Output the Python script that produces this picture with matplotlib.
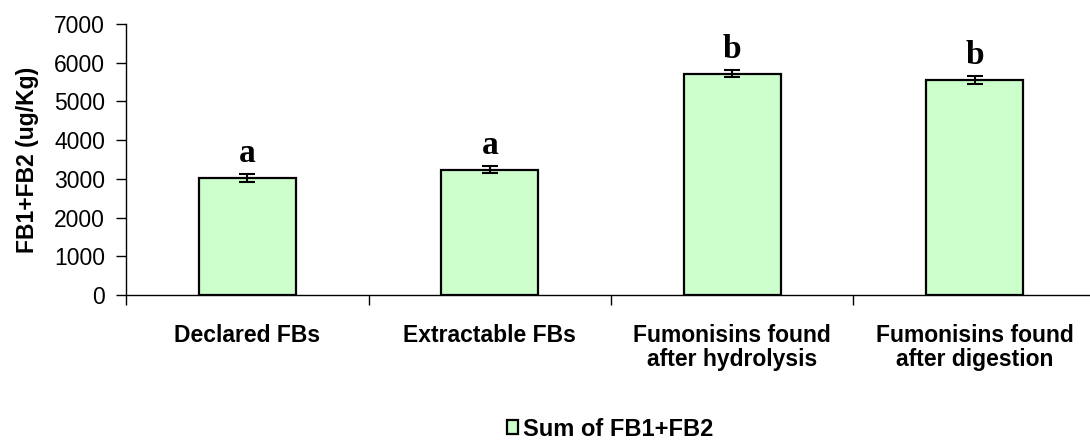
import matplotlib.pyplot as plt

# mean FB1+FB2 per sample group, with standard errors and significance letters
groups = ['Declared FBs', 'Extractable FBs',
          'Fumonisins found\nafter hydrolysis', 'Fumonisins found\nafter digestion']
fb_sum = [3030, 3240, 5720, 5550]
fb_err = [100, 100, 100, 100]
letters = ['a', 'a', 'b', 'b']

plt.rcParams['font.family'] = 'Liberation Sans'

fig = plt.figure(figsize=(10.9, 4.41), dpi=100)
ax = fig.add_axes([0.1156, 0.3311, 0.8899, 0.6145])

x = range(len(groups))
ax.bar(x, fb_sum, width=0.4, color='#CCFFCC', edgecolor='black', linewidth=1.6,
       label='Sum of FB1+FB2', zorder=2)
ax.errorbar(x, fb_sum, yerr=fb_err, fmt='none', ecolor='black', elinewidth=1.5,
            capsize=5.5, capthick=1.5, zorder=3)

for xi, v, e, lt in zip(x, fb_sum, fb_err, letters):
    ax.annotate(lt, (xi, v + e), xytext=(0, 8.5), textcoords='offset points',
                ha='center', va='baseline', fontsize=24, fontweight='bold',
                family='Liberation Serif')

ax.set_xlim(-0.5, 3.5)
ax.set_ylim(0, 7000)
ax.set_yticks(range(0, 7001, 1000))
ax.set_xticks([-0.5, 0.5, 1.5, 2.5, 3.5], minor=False)
ax.set_xticklabels([])
ax.set_xticks(list(x), minor=True)
ax.set_xticklabels(groups, minor=True, fontsize=16.5, fontweight='bold', linespacing=1.05)
ax.tick_params(axis='x', which='minor', length=0, pad=21)
ax.tick_params(axis='x', which='major', length=7, width=1, direction='out')
ax.tick_params(axis='y', length=7, width=1, direction='out', labelsize=16.5, pad=8)

ax.spines['top'].set_visible(False)
ax.spines['right'].set_visible(False)
ax.spines['left'].set_linewidth(1)
ax.spines['bottom'].set_linewidth(1)

ax.set_ylabel('FB1+FB2 (ug/Kg)', fontsize=16.5, fontweight='bold', labelpad=11)

fig.legend(loc='center', bbox_to_anchor=(0.5596, 0.0272), frameon=False,
           prop={'size': 17, 'weight': 'bold'}, handlelength=0.5, handleheight=0.55,
           handletextpad=0.2, borderpad=0)

fig.savefig('out.png', dpi=100)
